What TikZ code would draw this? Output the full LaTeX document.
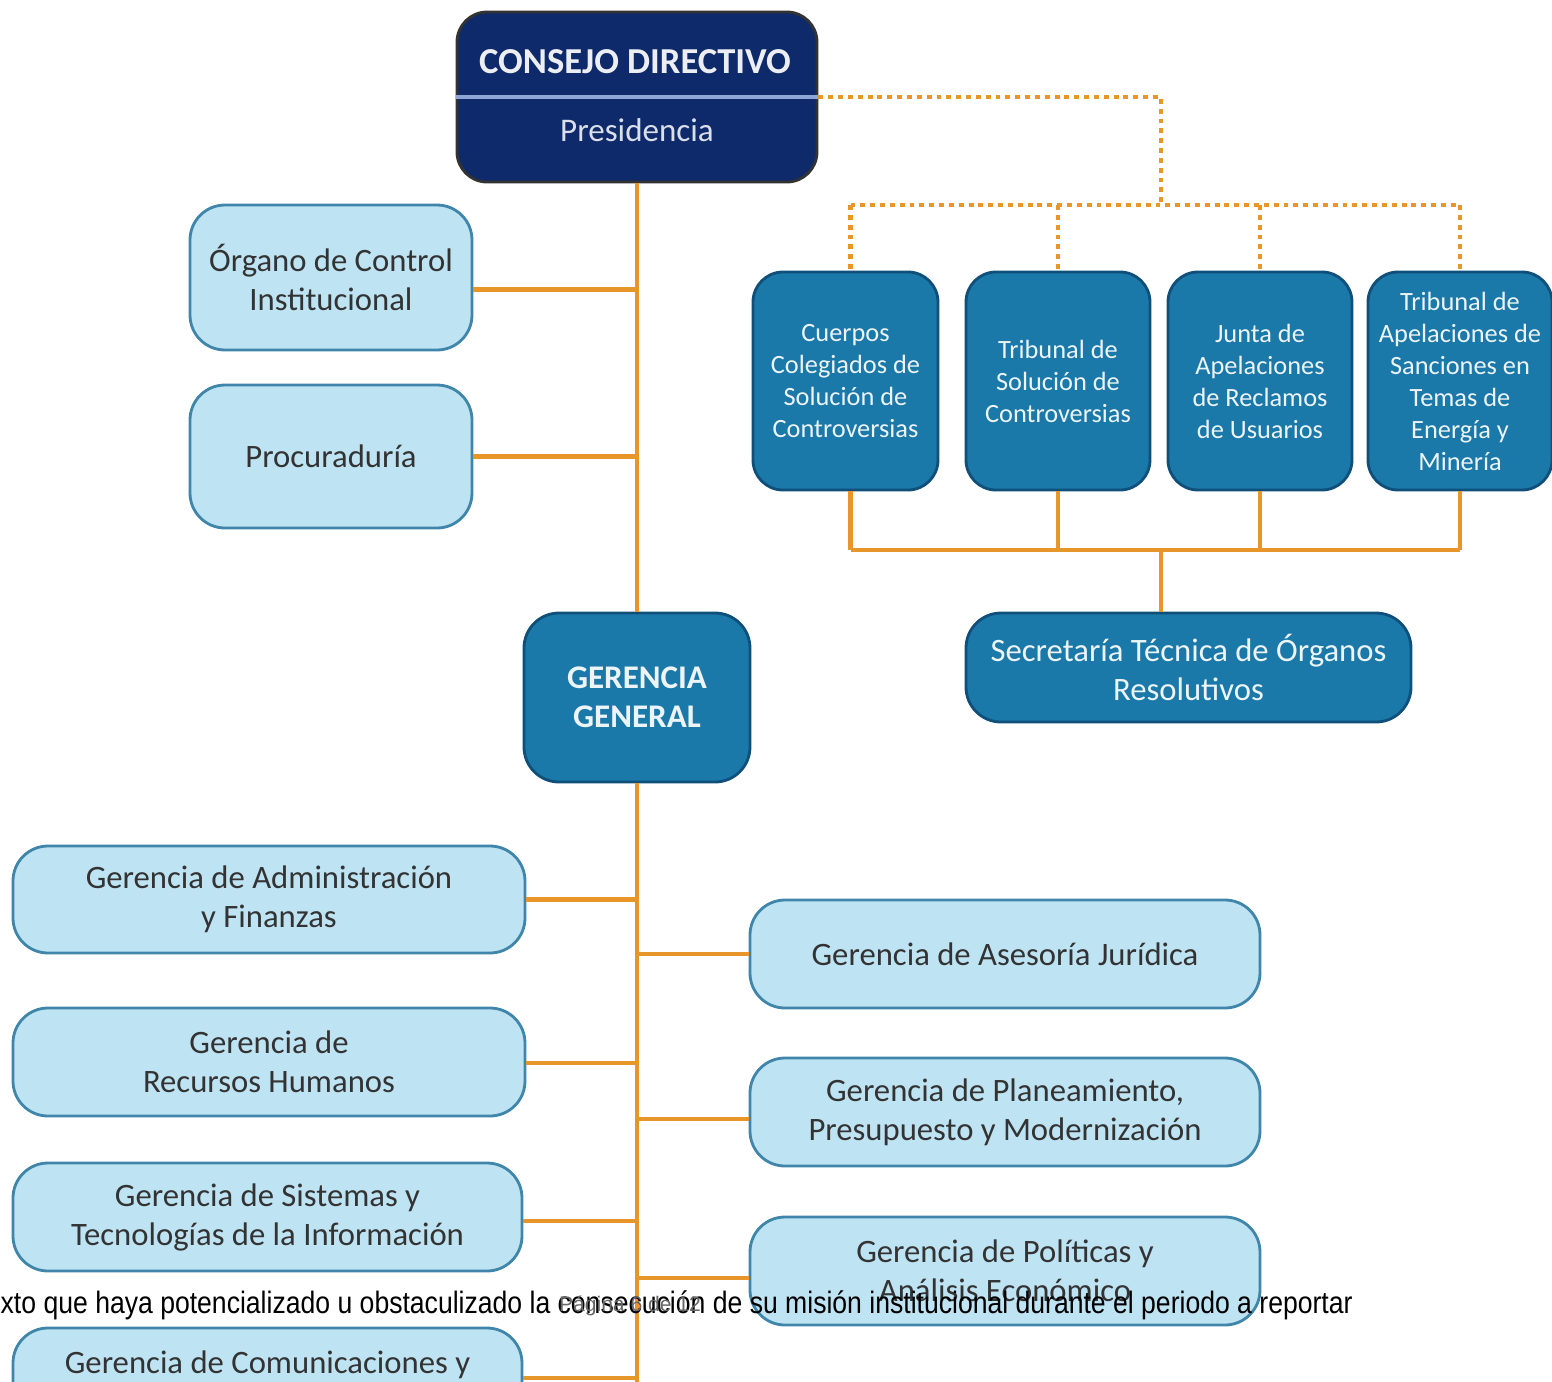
\documentclass[tikz,border=0pt]{standalone}
\usepackage{fontspec}
\setmainfont{Carlito}
\newfontfamily\arialfont{Liberation Sans}
\usetikzlibrary{positioning}

\definecolor{navy}{HTML}{0E2A6A}
\definecolor{navyline}{HTML}{8EA6D6}
\definecolor{tealbox}{HTML}{1A79A8}
\definecolor{tealedge}{HTML}{0F4F7A}
\definecolor{paleblue}{HTML}{BEE3F3}
\definecolor{paleedge}{HTML}{3F86AA}
\definecolor{boxtext}{HTML}{333333}
\definecolor{linkorange}{HTML}{E8962A}

\tikzset{
  palebox/.style={draw=paleedge, fill=paleblue, line width=0.8pt, rounded corners=0.35cm,
    text=boxtext, align=center, inner sep=0pt,
    font=\fontsize{9.3}{11.1}\selectfont},
  tealnode/.style={draw=tealedge, fill=tealbox, line width=0.8pt, rounded corners=0.3cm,
    text=white!92!tealbox, align=center, inner sep=0pt,
    font=\fontsize{7.5}{9.1}\selectfont},
  link/.style={draw=linkorange, line width=1.4pt},
  dotlink/.style={draw=linkorange, line width=1.2pt, dash pattern=on 1.4pt off 1.4pt}
}

\begin{document}
\begin{tikzpicture}
\useasboundingbox (0,0) rectangle (15.52,-13.82);

% consejo directivo
\node[draw=black!80, fill=navy, line width=0.8pt, rounded corners=0.3cm,
  minimum width=3.6cm, minimum height=1.7cm] (cd) at (6.37,-0.97) {};
\draw[navyline, line width=1.2pt] (cd.west) -- (cd.east);
\node[text=white!92!navy, font=\fontsize{10.4}{12}\selectfont\bfseries] (cdtitle) at (6.35,-0.62) {CONSEJO DIRECTIVO};
\node[text=white!85!navy, font=\fontsize{9.4}{11}\selectfont] (cdpres) at (6.37,-1.30) {Presidencia};

% organos de apoyo
\node[palebox, minimum width=2.82cm, minimum height=1.45cm] (oci) at (3.31,-2.775) {Órgano de Control\\Institucional};
\node[palebox, minimum width=2.82cm, minimum height=1.43cm] (proc) at (3.31,-4.565) {Procuraduría};

% gerencia general
\node[tealnode, minimum width=2.26cm, minimum height=1.69cm, rounded corners=0.35cm,
  font=\fontsize{9.4}{11.1}\selectfont\bfseries] (gg) at (6.37,-6.975) {GERENCIA\\GENERAL};

% organos resolutivos
\node[tealnode, minimum width=1.85cm, minimum height=2.18cm] (ccsc) at (8.455,-3.81) {Cuerpos\\Colegiados de\\Solución de\\Controversias};
\node[tealnode, minimum width=1.84cm, minimum height=2.18cm] (tsc) at (10.58,-3.81) {Tribunal de\\Solución de\\Controversias};
\node[tealnode, minimum width=1.84cm, minimum height=2.18cm] (jaru) at (12.60,-3.81) {Junta de\\Apelaciones\\de Reclamos\\de Usuarios};
\node[tealnode, minimum width=1.84cm, minimum height=2.18cm] (tasem) at (14.60,-3.81) {Tribunal de\\Apelaciones de\\Sanciones en\\Temas de\\Energía y\\Minería};
\node[tealnode, minimum width=4.45cm, minimum height=1.09cm, rounded corners=0.35cm,
  font=\fontsize{9.3}{11.1}\selectfont] (str) at (11.885,-6.675) {Secretaría Técnica de Órganos\\Resolutivos};

% gerencias de linea
\node[palebox, minimum width=5.12cm, minimum height=1.07cm] (gaf) at (2.69,-8.995) {Gerencia de Administración\\y Finanzas};
\node[palebox, minimum width=5.12cm, minimum height=1.08cm] (grh) at (2.69,-10.62) {Gerencia de\\Recursos Humanos};
\node[palebox, minimum width=5.09cm, minimum height=1.08cm] (gsti) at (2.675,-12.17) {Gerencia de Sistemas y\\Tecnologías de la Información};
\node[palebox, minimum width=5.09cm, minimum height=1.08cm] (gcom) at (2.675,-13.82) {Gerencia de Comunicaciones y\\\mbox{}};
\node[palebox, minimum width=5.10cm, minimum height=1.08cm] (gaj) at (10.05,-9.54) {Gerencia de Asesoría Jurídica};
\node[palebox, minimum width=5.10cm, minimum height=1.08cm] (gppm) at (10.05,-11.12) {Gerencia de Planeamiento,\\Presupuesto y Modernización};
\node[palebox, minimum width=5.10cm, minimum height=1.08cm] (gpae) at (10.05,-12.71) {Gerencia de Políticas y\\Análisis Económico};

% tronco
\coordinate (trunkend) at (6.37,-13.82);
\draw[link] (cd.south) -- (gg.north);
\draw[link] (gg.south) -- (trunkend);
\draw[link] ([yshift=-1.2mm]oci.east) -- ([yshift=-1.2mm]oci.east -| gg.north);
\draw[link] (proc.east) -- (proc.east -| gg.north);
\draw[link] (gaf.east) -- (gaf.east -| gg.south);
\draw[link] ([yshift=-0.1mm]grh.east) -- ([yshift=-0.1mm]grh.east -| gg.south);
\draw[link] ([yshift=-0.4mm]gsti.east) -- ([yshift=-0.4mm]gsti.east -| gg.south);
\draw[link] ([yshift=0.4mm]gcom.east) -- ([yshift=0.4mm]gcom.east -| gg.south);
\draw[link] (gaj.west) -- (gaj.west -| gg.south);
\draw[link] ([yshift=-0.7mm]gppm.west) -- ([yshift=-0.7mm]gppm.west -| gg.south);
\draw[link] ([yshift=-0.7mm]gpae.west) -- ([yshift=-0.7mm]gpae.west -| gg.south);

% lineas punteadas
\coordinate (dtop) at (11.61,-2.05);
\draw[dotlink] (cd.east) -| (dtop);
\draw[dotlink] ([xshift=0.5mm]dtop -| ccsc.north) -- (dtop -| tasem.north);
\draw[dotlink] ([xshift=0.5mm]dtop -| ccsc.north) -- ([xshift=0.5mm]ccsc.north);
\foreach \n in {tsc,jaru,tasem}
  \draw[dotlink] (dtop -| \n.north) -- (\n.north);

% organos resolutivos a secretaria
\coordinate (sbus) at (11.61,-5.50);
\draw[link] ([xshift=0.5mm]sbus -| ccsc.south) -- (sbus -| tasem.south);
\draw[link] ([xshift=0.5mm]ccsc.south) -- ([xshift=0.5mm]sbus -| ccsc.south);
\foreach \n in {tsc,jaru,tasem}
  \draw[link] (\n.south) -- (sbus -| \n.south);
\draw[link] (sbus) -- (sbus |- str.north);

% texto superpuesto
\node[anchor=west, inner sep=0pt, font=\arialfont\fontsize{8.8}{10}\selectfont] (overtext) at (0,-13.05)
  {\resizebox{13.52cm}{\height}{xto que haya potencializado u obstaculizado la consecución de su misión institucional durante el periodo a reportar}};
\node[inner sep=0pt, text=black!60, font=\arialfont\fontsize{6}{7}\selectfont] (pagina) at (6.30,-13.06) {Página 6 de 12};
\end{tikzpicture}
\end{document}
